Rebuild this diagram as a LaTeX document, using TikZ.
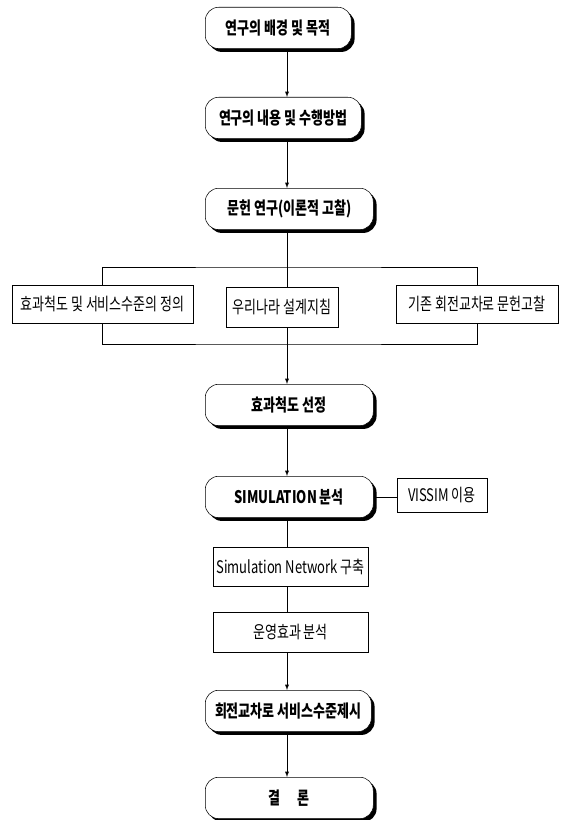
\documentclass[tikz,border=0pt]{standalone}
\usepackage{fontspec}
\setmainfont{Noto Sans CJK KR}[FakeStretch=0.75]
\usetikzlibrary{shadows, backgrounds}

\tikzset{
  stage/.style={draw, thin, fill=white, rounded corners=10pt, anchor=north west,
    minimum height=31pt, inner sep=0pt, font=\bfseries\fontsize{13}{15}\selectfont,
    drop shadow={shadow xshift=2.5pt, shadow yshift=-2.5pt, opacity=1, fill=black}},
  item/.style={draw, thin, fill=white, inner sep=0pt, font=\fontsize{13}{15}\selectfont},
  flow/.style={-latex, thin},
}

\begin{document}
\begin{tikzpicture}[x=0.75pt, y=-0.75pt]
    \useasboundingbox (0,0) rectangle (564,820);

    % Main stages (left edges aligned)
    \foreach \n/\y/\w/\t in {s1/7/109.5/연구의 배경 및 목적, s2/97/117/연구의 내용 및 수행방법,
      s3/188/126/문헌 연구(이론적 고찰), s4/384/126/효과척도 선정, s5/476/126/SIMULATION 분석,
      s6/690/124.5/회전교차로 서비스수준제시, s7/777/126/결\quad 론} {
      \node[stage, minimum width=\w pt] (\n) at (205,\y) {\t};
    }

    % Literature review items
    \node[item, minimum width=135.75pt, minimum height=28.5pt] (def) at (102.5,304) {효과척도 및 서비스수준의 정의};
    \node[item, minimum width=84pt, minimum height=30pt] (guide) at (282,307) {우리나라 설계지침};
    \node[item, minimum width=121.5pt, minimum height=28.5pt] (prev) at (477,304) {기존 회전교차로 문헌고찰};

    % Simulation steps
    \node[item, minimum width=67.5pt, minimum height=25.5pt] (vissim) at (442,495) {VISSIM 이용};
    \node[item, minimum width=116.25pt, minimum height=29.25pt] (net) at (290.5,566.5) {Simulation Network 구축};
    \node[item, minimum width=116.25pt, minimum height=30pt] (eval) at (290.5,632) {운영효과 분석};

    \coordinate (axis) at (287,0);
    \coordinate (forktop) at (287,267);
    \coordinate (forkbot) at (287,344);

    % Connectors
    \begin{scope}[on background layer]
      \draw[flow] (s1.south -| axis) -- (s2.north -| axis);
      \draw[flow] (s2.south -| axis) -- (s3.north -| axis);
      \draw[flow] (s3.south -| axis) -- (s4.north -| axis);
      \draw (def) |- (forktop) -| (prev);
      \draw (def) |- (forkbot) -| (prev);
      \draw[flow] (s4.south -| axis) -- (s5.north -| axis);
      \draw (s5.east) -- (s5.east -| vissim.west);
      \draw (s5.south -| axis) -- (net.north -| axis);
      \draw (net.south -| axis) -- (eval.north -| axis);
      \draw[flow] (eval.south -| axis) -- (s6.north -| axis);
      \draw[flow] (s6.south -| axis) -- (s7.north -| axis);
    \end{scope}

\end{tikzpicture}
\end{document}
